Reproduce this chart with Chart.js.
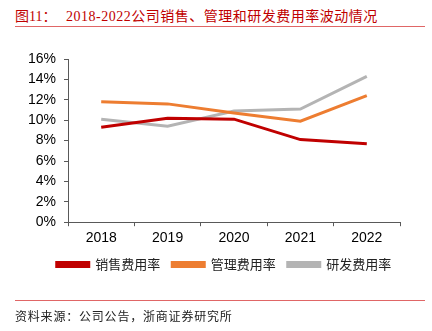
<!DOCTYPE html>
<html>
<head>
<meta charset="utf-8">
<script src="https://cdn.jsdelivr.net/npm/chart.js@4"></script>
<style>
  body { margin: 0; background: #fff; }
  #wrap { position: relative; width: 432px; height: 331px; overflow: hidden; }
  #chart { position: absolute; left: 0; top: 0; }
  .title { position: absolute; left: 15px; top: 5px; font: 14px "Liberation Serif", "Noto Sans CJK SC", serif; letter-spacing: 0.5px; color: #c00000; white-space: nowrap; }
  .title .num { display: inline-block; width: 51px; letter-spacing: 0; }
  .rule { position: absolute; left: 15px; width: 410px; height: 1px; background: #e06666; }
  .source { position: absolute; left: 15px; top: 307px; font: 12px "Noto Sans CJK SC", sans-serif; letter-spacing: 0.8px; color: #222; white-space: nowrap; }
</style>
</head>
<body>
<div id="wrap">
  <div class="title"><span class="num">图11：</span>2018-2022公司销售、管理和研发费用率波动情况</div>
  <div class="rule" style="top:26px"></div>
  <canvas id="chart" width="432" height="331"></canvas>
  <div class="rule" style="top:300px"></div>
  <div class="source">资料来源：公司公告，浙商证券研究所</div>
</div>
<script>
// values, in percent
const years = ['2018', '2019', '2020', '2021', '2022'];
const salesRate = [9.3, 10.2, 10.1, 8.1, 7.7];
const adminRate = [11.8, 11.6, 10.7, 9.9, 12.4];
const rdRate = [10.1, 9.4, 10.9, 11.1, 14.3];
const seriesNames = ['销售费用率', '管理费用率', '研发费用率'];

const axisColor = '#595959';
const tickFont = { family: '"Liberation Sans", Arial, sans-serif', size: 14 };

/* the legend in the reference sits a bit right of and above where Chart.js puts it */
const legendShift = {
  id: 'legendShift',
  afterLayout(chart) {
    let lg = chart.legend;
    lg.left += 24; lg.right += 24;
    lg.top -= 5; lg.bottom -= 5;
  }
};

let ctx = document.getElementById('chart').getContext('2d');
var lineChart = new Chart(ctx, {
  type: 'line',
  data: {
    labels: years,
    datasets: [{
      label: seriesNames[0],
      data: salesRate,
      borderColor: '#c00000',
      backgroundColor: '#c00000',
    }, {
      label: seriesNames[1],
      data: adminRate,
      borderColor: '#ed7d31',
      backgroundColor: '#ed7d31',
    }, {
      label: seriesNames[2],
      data: rdRate,
      borderColor: '#b4b4b4',
      backgroundColor: '#b4b4b4',
    }]
  },
  options: {
    responsive: false,
    animation: false,
    elements: {
      line: { borderWidth: 3, tension: 0 },
      point: { radius: 0 }
    },
    layout: { padding: { top: 59, left: 0, right: 32, bottom: 45 } },
    plugins: {
      tooltip: { enabled: false },
      legend: {
        position: 'bottom',
        labels: {
          boxWidth: 32,
          boxHeight: 4,
          padding: 12,
          color: '#222',
          font: { family: '"Noto Sans CJK SC", sans-serif', size: 13 }
        }
      }
    },
    scales: {
      x: {
        offset: true,
        grid: { offset: true, drawOnChartArea: false, tickLength: 4, color: axisColor },
        border: { color: axisColor, width: 1 },
        ticks: { color: '#000', font: tickFont, padding: 4, maxRotation: 0 }
      },
      y: {
        min: 0,
        max: 16,
        grid: { drawOnChartArea: false, tickLength: 4, color: axisColor },
        border: { color: axisColor, width: 1 },
        ticks: {
          stepSize: 2,
          color: '#000',
          font: tickFont,
          padding: 8,
          callback: function (v) { return v + '%'; }
        },
        afterFit: function (scale) { scale.width = 68; }
      }
    }
  },
  plugins: [legendShift]
});
</script>
</body>
</html>
